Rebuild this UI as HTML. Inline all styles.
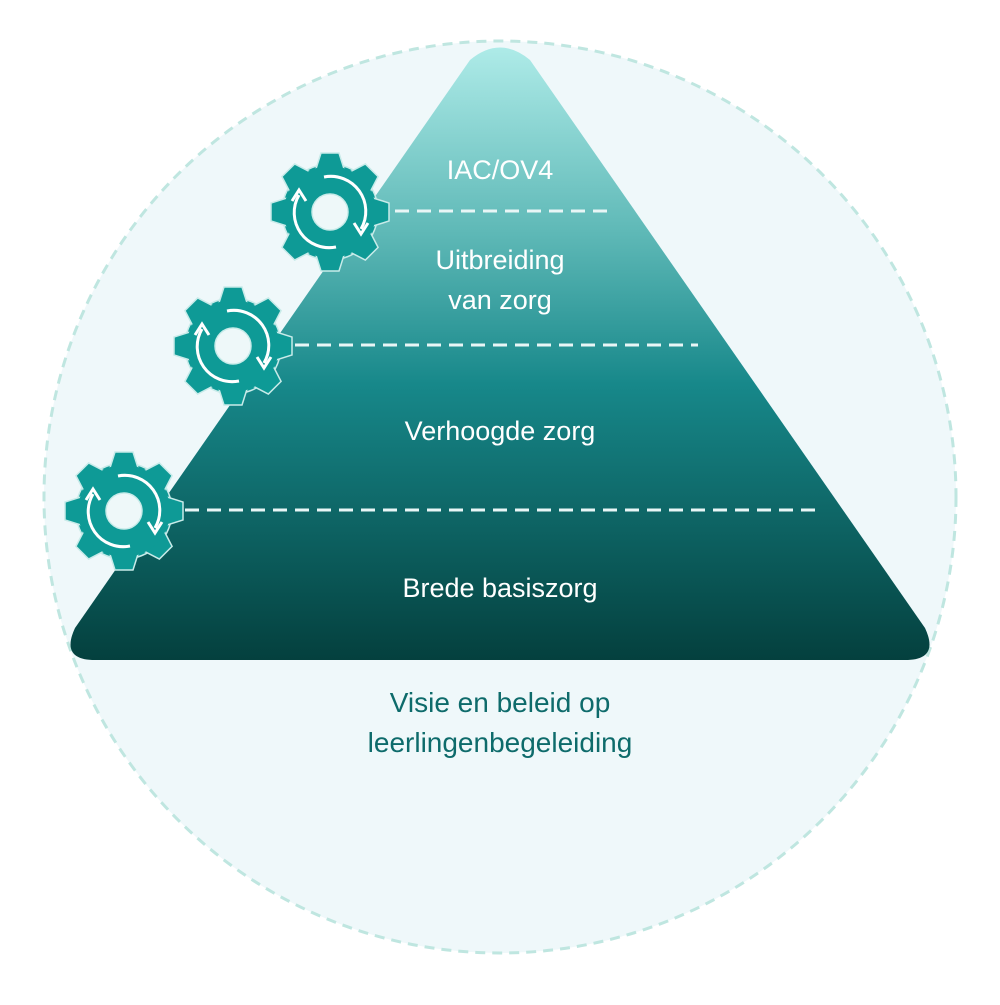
<!DOCTYPE html>
<html><head><style>
html,body{margin:0;padding:0;background:#fff;}
</style></head><body>
<svg width="1000" height="1000" viewBox="0 0 1000 1000" xmlns="http://www.w3.org/2000/svg">
<defs>
<linearGradient id="pg" x1="0" y1="0" x2="0" y2="1">
<stop offset="0" stop-color="#aeebe8"/>
<stop offset="0.3" stop-color="#5fb9b7"/>
<stop offset="0.55" stop-color="#17888a"/>
<stop offset="1" stop-color="#04403e"/>
</linearGradient>
<path id="tooth" d="M -9 -59 L 9 -59 L 15 -40 L -15 -40 Z"/>
<g id="gear">
<g fill="#0e9a96" stroke="#c8ebe9" stroke-width="1.5">
<circle r="48"/>
<use href="#tooth" transform="rotate(0)"/>
<use href="#tooth" transform="rotate(45)"/>
<use href="#tooth" transform="rotate(90)"/>
<use href="#tooth" transform="rotate(135)"/>
<use href="#tooth" transform="rotate(180)"/>
<use href="#tooth" transform="rotate(225)"/>
<use href="#tooth" transform="rotate(270)"/>
<use href="#tooth" transform="rotate(315)"/>
</g>
<circle r="46" fill="#0e9a96"/>
<circle r="18" fill="#eef8f9" stroke="#c8ebe9" stroke-width="1.5"/>
<path d="M -6 -35 A 35 35 0 0 1 31 17" fill="none" stroke="#fff" stroke-width="3"/>
<path d="M 24 11 L 31 22 L 38 11" fill="none" stroke="#fff" stroke-width="3"/>
<path d="M 6 35 A 35 35 0 0 1 -31 -17" fill="none" stroke="#fff" stroke-width="3"/>
<path d="M -24 -11 L -31 -22 L -38 -11" fill="none" stroke="#fff" stroke-width="3"/>
</g>
</defs>
<circle cx="500" cy="497" r="456" fill="#eff8fa" stroke="#bfe6e0" stroke-width="3" stroke-dasharray="10 7"/>
<path d="M 470 60 Q 500 35 530 60 L 925 628 Q 940 660 905 660 L 95 660 Q 60 660 75 628 Z" fill="url(#pg)"/>
<g stroke="#e8f6f6" stroke-width="3" stroke-dasharray="14 8">
<line x1="395" y1="211" x2="610" y2="211"/>
<line x1="295" y1="345" x2="698" y2="345"/>
<line x1="185" y1="510" x2="820" y2="510"/>
</g>
<use href="#gear" x="330" y="212"/>
<use href="#gear" x="233" y="346"/>
<use href="#gear" x="124" y="511"/>
<g font-family="Liberation Sans, sans-serif" font-size="27" fill="#fff" text-anchor="middle">
<text x="500" y="179">IAC/OV4</text>
<text x="500" y="269">Uitbreiding</text>
<text x="500" y="309">van zorg</text>
<text x="500" y="440">Verhoogde zorg</text>
<text x="500" y="597">Brede basiszorg</text>
</g>
<g font-family="Liberation Sans, sans-serif" font-size="28" fill="#0e6b6b" text-anchor="middle">
<text x="500" y="712">Visie en beleid op</text>
<text x="500" y="752">leerlingenbegeleiding</text>
</g>
</svg>
</body></html>
